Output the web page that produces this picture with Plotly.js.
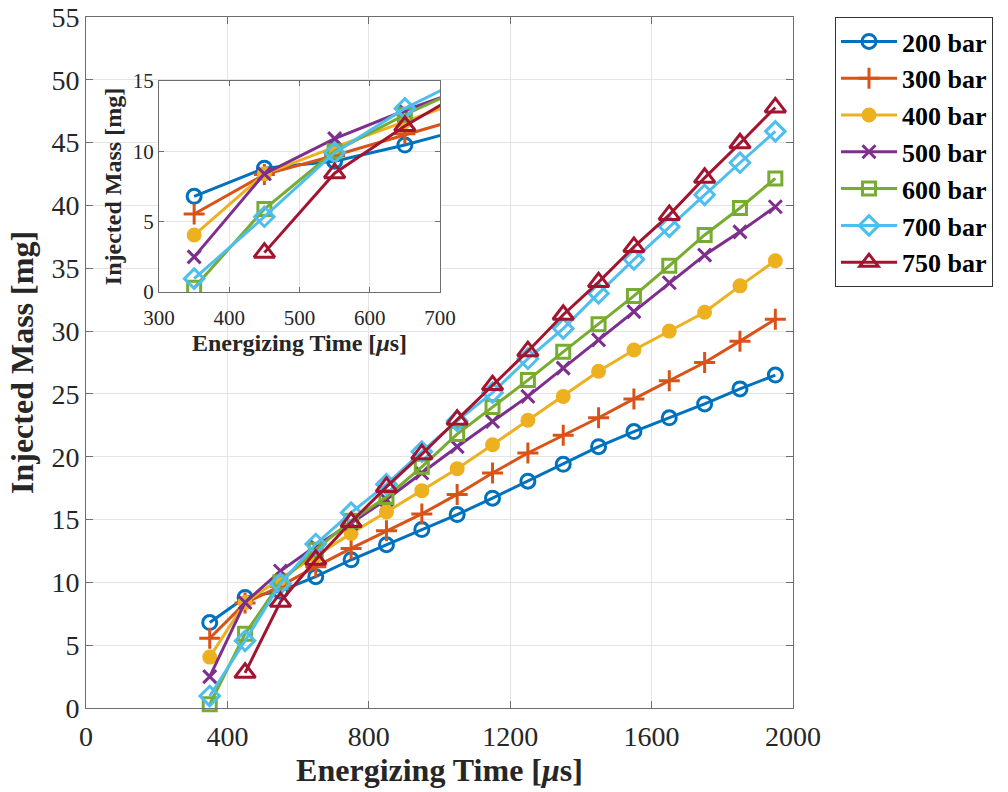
<!DOCTYPE html>
<html>
<head>
<meta charset="utf-8">
<script src="https://cdn.plot.ly/plotly-3.0.1.min.js"></script>
<style>html,body{margin:0;padding:0;background:#fff;}#chart{width:1008px;height:792px;}</style>
</head>
<body>
<div id="chart"></div>
<script>
// Energizing time [µs]
const timeAll = [350,450,550,650,750,850,950,1050,1150,1250,1350,1450,1550,1650,1750,1850,1950];
const time750 = [450,550,650,750,850,950,1050,1150,1250,1350,1450,1550,1650,1750,1850,1950];

// Injected mass [mg]
const mass200 = [6.8,8.8,9.3,10.45,11.8,13.0,14.2,15.4,16.7,18.05,19.4,20.8,22.0,23.1,24.2,25.4,26.5];
const mass300 = [5.55,8.35,9.7,11.25,12.7,14.1,15.45,17.0,18.7,20.3,21.7,23.1,24.6,26.05,27.5,29.2,30.95];
const mass400 = [4.05,8.4,10.3,12.1,13.9,15.6,17.3,19.05,20.95,22.9,24.8,26.8,28.5,30.0,31.5,33.6,35.6];
const mass500 = [2.5,8.4,10.9,12.9,14.7,16.6,18.7,20.8,22.8,24.8,27.05,29.3,31.55,33.85,36.05,37.9,39.9];
const mass600 = [0.3,5.9,10.0,12.6,14.9,16.8,19.2,21.8,23.95,26.1,28.35,30.55,32.8,35.2,37.65,39.8,42.15];
const mass700 = [0.95,5.35,9.9,13.05,15.55,17.8,20.4,22.85,25.1,27.8,30.2,33.0,35.7,38.3,40.85,43.4,45.9];
const mass750 = [2.8,8.45,11.8,14.8,17.6,20.2,22.95,25.7,28.4,31.3,33.9,36.7,39.25,42.2,44.95,47.8];

const seriesNames = ['200 bar','300 bar','400 bar','500 bar','600 bar','700 bar','750 bar'];
const xTicks = [0,400,800,1200,1600,2000];
const yTicks = [0,5,10,15,20,25,30,35,40,45,50,55];
const insetXTicks = [300,400,500,600,700];
const insetYTicks = [0,5,10,15];

const seriesX = [timeAll,timeAll,timeAll,timeAll,timeAll,timeAll,time750];
const seriesY = [mass200,mass300,mass400,mass500,mass600,mass700,mass750];
const colors = ['#0072BD','#D95319','#EDB120','#7E2F8E','#77AC30','#4DBEEE','#A2142F'];
const symbols = ['circle-open','cross-thin-open','circle','x-thin-open','square-open','diamond-open','triangle-up-open'];
const sizes = [14,15,12,13,13,15,18];

const serif = 'Liberation Serif, Times New Roman, serif';
const traces = [];
for (let i = 0; i < seriesNames.length; i++) {
  traces.push({
    x: seriesX[i], y: seriesY[i], name: seriesNames[i], type: 'scatter', mode: 'lines+markers',
    xaxis: 'x', yaxis: 'y', cliponaxis: false,
    line: {color: colors[i], width: 3},
    marker: {symbol: symbols[i], size: sizes[i], color: colors[i], line: {color: colors[i], width: 3}}
  });
}
for (let i = 0; i < seriesNames.length; i++) {
  traces.push({
    x: seriesX[i], y: seriesY[i], name: seriesNames[i], type: 'scatter', mode: 'lines+markers',
    xaxis: 'x2', yaxis: 'y2', showlegend: false,
    line: {color: colors[i], width: 3},
    marker: {symbol: symbols[i], size: sizes[i], color: colors[i], line: {color: colors[i], width: 3}}
  });
}

const axisCommon = {
  showline: true, linecolor: '#6e6e6e', linewidth: 1, mirror: 'ticks',
  ticks: 'inside', ticklen: 7, tickcolor: '#6e6e6e',
  showgrid: true, gridcolor: '#e4e4e4', gridwidth: 1, zeroline: false
};

const layout = {
  width: 1008, height: 792,
  paper_bgcolor: '#ffffff', plot_bgcolor: '#ffffff',
  margin: {l: 86, r: 215, t: 17, b: 84},
  showlegend: true,
  font: {family: serif, color: '#262626'},
  xaxis: Object.assign({}, axisCommon, {
    domain: [0, 1], range: [0, 2000], tickvals: xTicks, ticktext: xTicks.map(String),
    tickfont: {family: serif, size: 28, color: '#262626'}, ticklabelstandoff: 3,
    title: {text: 'Energizing Time [<i>μ</i>s]', font: {family: serif, size: 32, weight: 700, color: '#262626'}, standoff: 4}
  }),
  yaxis: Object.assign({}, axisCommon, {
    domain: [0, 1], range: [0, 55], tickvals: yTicks, ticktext: yTicks.map(String),
    tickfont: {family: serif, size: 28, color: '#262626'},
    title: {text: 'Injected Mass [mg]', font: {family: serif, size: 32, weight: 700, color: '#262626'}, standoff: 8}
  }),
  xaxis2: Object.assign({}, axisCommon, {
    domain: [0.1033, 0.5007], anchor: 'y2', range: [300, 700], tickvals: insetXTicks, ticktext: insetXTicks.map(String),
    tickfont: {family: serif, size: 21, color: '#262626'}, ticklen: 5, ticklabelstandoff: 7,
    title: {text: 'Energizing Time [<i>μ</i>s]', font: {family: serif, size: 24, weight: 700, color: '#262626'}, standoff: 2}
  }),
  yaxis2: Object.assign({}, axisCommon, {
    domain: [0.602, 0.9074], anchor: 'x2', range: [0, 15], tickvals: insetYTicks, ticktext: insetYTicks.map(String),
    tickfont: {family: serif, size: 21, color: '#262626'}, ticklen: 5,
    title: {text: 'Injected Mass [mg]', font: {family: serif, size: 24, weight: 700, color: '#262626'}, standoff: 4}
  }),
  legend: {
    x: 1.0594, y: 1, xanchor: 'left', yanchor: 'top',
    bgcolor: '#ffffff', bordercolor: '#333333', borderwidth: 1,
    font: {family: serif, size: 26, weight: 700, color: '#000000'},
    itemwidth: 56, tracegroupgap: 0
  }
};

Plotly.newPlot('chart', traces, layout, {staticPlot: true, displayModeBar: false});
</script>
</body>
</html>
